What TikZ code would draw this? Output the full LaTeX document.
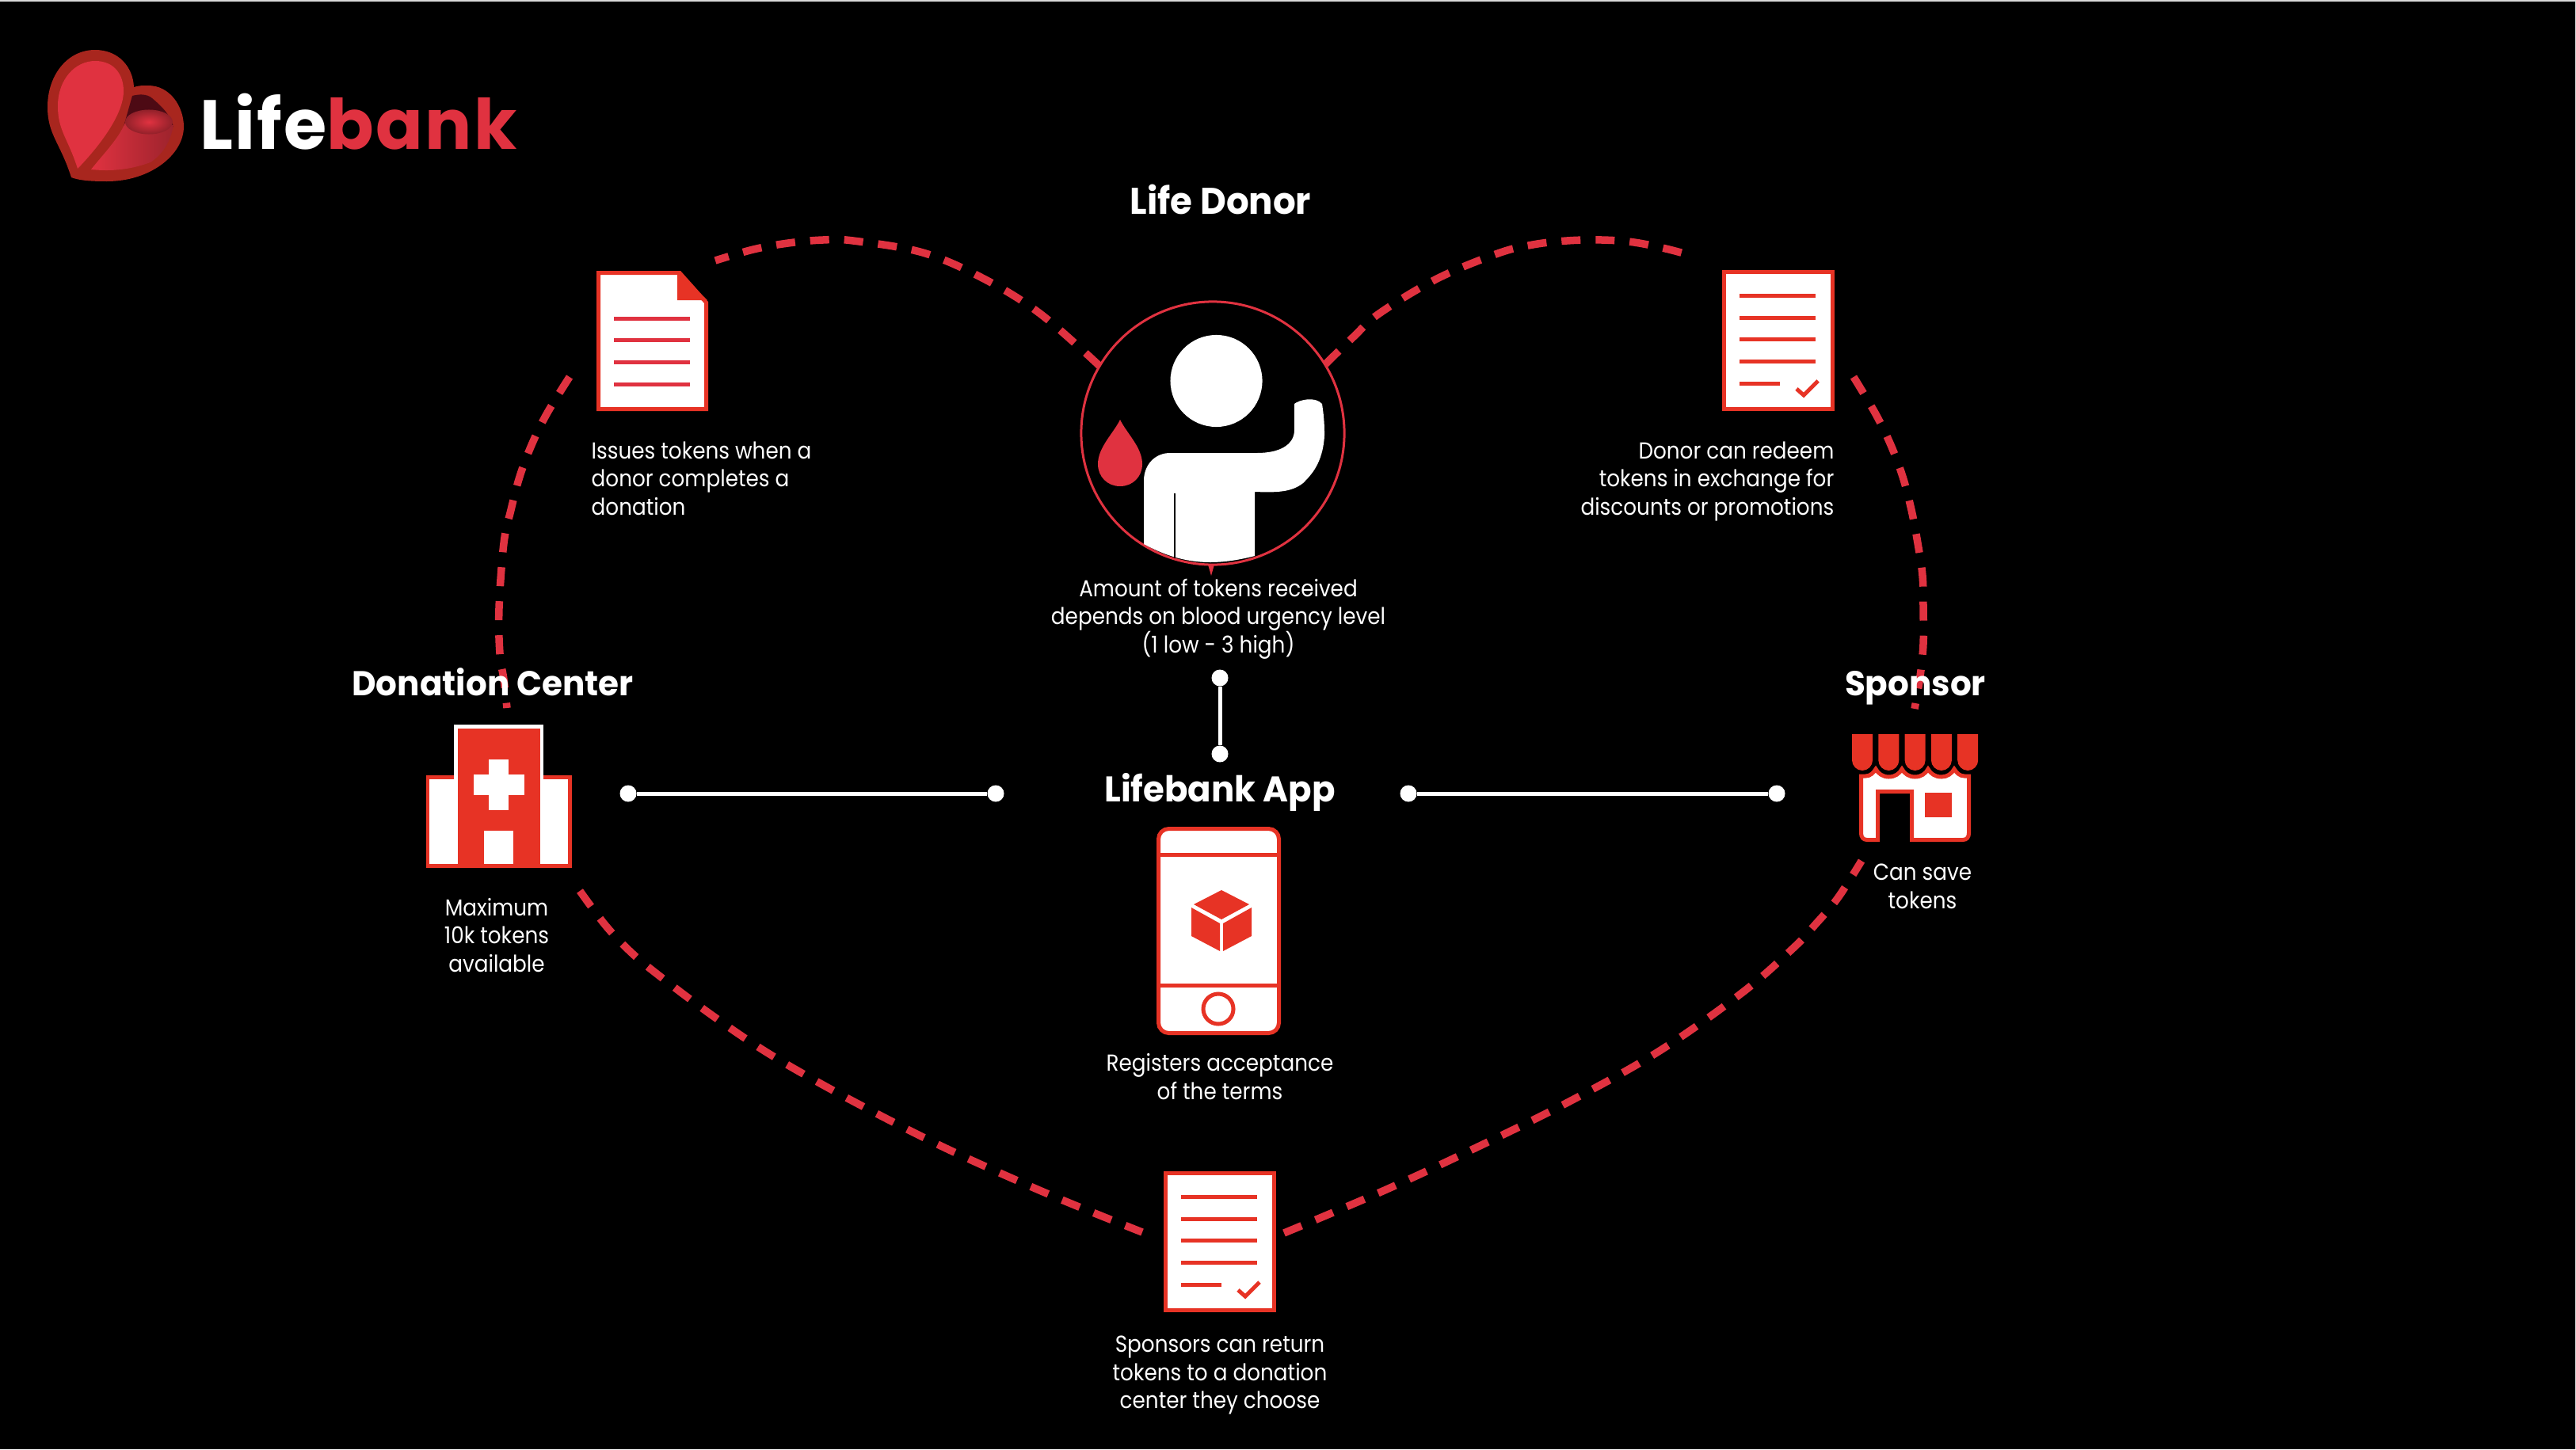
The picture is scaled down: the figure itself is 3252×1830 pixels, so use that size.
\documentclass[tikz,border=0pt]{standalone}
\usepackage{fontspec}
\setmainfont{Poppins}[FakeStretch=0.9,BoldFeatures={FakeStretch=0.965}]
\newfontfamily\logofont{Poppins}[LetterSpace=2.5]
\definecolor{heartred}{HTML}{E03240}
\definecolor{iconred}{HTML}{E73325}
\definecolor{logodark}{HTML}{A8261E}
\definecolor{logomouth}{HTML}{4D0A14}
\newcommand{\descfont}{\fontsize{8.3}{9.96}\selectfont\setlength{\lineskiplimit}{-5pt}}
\tikzset{
    heartline/.style={draw=heartred,line width=0.095cm,dash pattern=on 0.24cm off 0.19cm},
    iconline/.style={draw=iconred,line width=0.05cm},
    link/.style={draw=white,line width=0.05cm},
    dot/.style={circle,fill=white,inner sep=0,minimum size=0.21cm},
    desc/.style={text=white,inner sep=0,anchor=base,align=center,font=\descfont},
    heading/.style={text=white,inner sep=0,anchor=base,font=\fontsize{12.4}{14}\selectfont\bfseries}
}
\newcommand{\checkdoc}[1]{
\begin{scope}[shift={(#1)}]
\draw[iconline,fill=white] (2.5, 2.5) rectangle (139.5, 175.5);
\foreach \i in {32,60,87,115}
{
    \draw[iconline] (22, \i) -- (118, \i);
}
\draw[iconline] (22, 143) -- (73, 143);
\draw[iconline] (94, 150) -- (103, 158) -- (121, 140);
\end{scope}
}
\begin{document}
\begin{tikzpicture}[x=0.01cm,y=-0.01cm]

\fill[black] (0, 0) rectangle (3252, 1830);
\useasboundingbox (0, 0) rectangle (3252, 1830);
\fill[black!15] (0, 0) rectangle (3252, 2);
\fill[black!15] (3251, 0) rectangle (3252, 1830);

% logo
\fill[logodark] (90, 224) .. controls (76, 180) and (60, 170) .. (60, 135) .. controls (60, 95) and (85, 63) .. (120, 63) .. controls (150, 63) and (168, 85) .. (169, 110) .. controls (175, 108) and (180, 108) .. (187, 108) .. controls (215, 108) and (232, 135) .. (232, 160) .. controls (232, 195) and (190, 229) .. (135, 229) .. controls (115, 229) and (100, 228) .. cycle;
\fill[logomouth] (156, 160) -- (167, 121) .. controls (175, 119) and (185, 118) .. (192, 124) .. controls (205, 135) and (215, 145) .. (219, 160) -- cycle;
\shade[left color=heartred,right color=heartred!70!black] (158, 155) .. controls (150, 175) and (130, 195) .. (115, 214) .. controls (135, 216) and (160, 216) .. (190, 205) .. controls (205, 195) and (215, 180) .. (219, 158) -- cycle;
\shade[inner color=heartred,outer color=heartred!65!black] (188, 154) ellipse (0.3cm and 0.155cm);
\fill[heartred] (98, 213) .. controls (86, 175) and (73, 165) .. (73, 134) .. controls (73, 100) and (95, 77) .. (120, 77) .. controls (145, 77) and (156, 95) .. (156, 115) .. controls (156, 145) and (125, 185) .. cycle;
\node[inner sep=0,anchor=base west,font=\fontsize{25}{25}\logofont\bfseries] (nLogo) at (252, 188) {\textcolor{white}{Life}\textcolor{heartred}{bank}};

% heart
\draw[heartline] plot[smooth,tension=0.6] coordinates {(1388,462) (1313,396) (1242,352) (1165,319) (1077,304) (1039,303) (995,307) (951,315) (903,329)};
\draw[heartline] plot[smooth,tension=0.6] coordinates {(719,476) (690,523) (671,562) (656,602) (645,644) (636,686) (630,768) (631,825) (636,858) (640,894)};
\draw[heartline] plot[smooth,tension=0.6] coordinates {(732,1125) (764,1168) (794,1200) (827,1228) (896,1280) (965,1327) (1039,1370) (1116,1411) (1192,1449) (1271,1485) (1350,1519) (1442,1556)};
\draw[heartline] plot[smooth,tension=0.6] coordinates {(1673,460) (1709,425) (1741,396) (1814,352) (1891,320) (1935,309) (1978,304) (2022,303) (2063,306) (2107,315) (2139,324)};
\draw[heartline] plot[smooth,tension=0.6] coordinates {(2340,476) (2368,523) (2387,562) (2402,602) (2413,644) (2421,686) (2427,727) (2428,768) (2428,813) (2424,854) (2417,895)};
\draw[heartline] plot[smooth,tension=0.6] coordinates {(1621,1557) (1748,1503) (1866,1448) (1983,1390) (2095,1327) (2200,1253) (2264,1197) (2292,1167) (2320,1134) (2350,1087)};

% issuing document
\draw[iconline,fill=white] (755.5, 344.5) -- (858, 344.5) -- (891.5, 382) -- (891.5, 516.5) -- (755.5, 516.5) -- cycle;
\fill[iconred] (855, 343) -- (893, 379) -- (855, 379) -- cycle;
\foreach \i in {402,429,457,485}
{
    \draw[draw=heartred,line width=0.05cm] (775, \i) -- (871, \i);
}
\checkdoc{2174,341}
\checkdoc{1469,1479}

% donor
\draw[draw=heartred,line width=0.03cm] (1531, 547) circle (1.66cm);
\fill[white] (1535.5, 481) circle (0.58cm);
\fill[heartred] (1414, 530) .. controls (1405, 548) and (1386, 565) .. (1386, 586) .. controls (1386, 602) and (1398, 614) .. (1414, 614) .. controls (1430, 614) and (1442, 602) .. (1442, 586) .. controls (1442, 565) and (1423, 548) .. cycle;
\fill[white] (1444, 687) -- (1444, 607) .. controls (1444, 587) and (1458, 572) .. (1477, 572) -- (1587, 572) .. controls (1615, 572) and (1634, 562) .. (1634, 543) -- (1634, 510) .. controls (1640, 505) and (1660, 500) .. (1669, 510) .. controls (1672, 530) and (1672, 540) .. (1672, 550) .. controls (1670, 585) and (1655, 600) .. (1645, 610) .. controls (1630, 622) and (1610, 622) .. (1584, 621) -- (1584, 702) .. controls (1530, 716) and (1490, 712) .. cycle;
\draw[black,line width=0.025cm] (1483, 623) -- (1483, 705);
\fill[heartred] (1525, 713) -- (1533, 713) -- (1529, 727) -- cycle;

% hospital
\fill[iconred] (538, 979) rectangle (722, 1096);
\fill[white] (573, 915) rectangle (686, 990);
\fill[white] (542, 984) rectangle (578, 1091);
\fill[white] (682, 984) rectangle (717, 1091);
\fill[iconred] (578, 920) rectangle (682, 1096);
\fill[white] (617, 959) rectangle (642, 1023);
\fill[white] (598, 978) rectangle (662, 1004);
\fill[white] (611, 1049) rectangle (648, 1091);

% phone
\draw[iconline,fill=white,rounded corners=0.13cm] (1462.5, 1046.5) rectangle (1614.5, 1304.5);
\draw[iconline] (1462.5, 1079) -- (1614.5, 1079);
\draw[iconline] (1462.5, 1244) -- (1614.5, 1244);
\draw[iconline] (1538, 1274) circle (0.19cm);
\fill[iconred] (1542, 1124) -- (1577, 1142) -- (1542, 1161) -- (1507, 1142) -- cycle;
\fill[iconred] (1504, 1146) -- (1540, 1166) -- (1540, 1201) -- (1504, 1182) -- cycle;
\fill[iconred] (1544, 1166) -- (1580, 1146) -- (1580, 1182) -- (1544, 1201) -- cycle;

% shop
\draw[iconline,fill=white] (2349.5, 980) -- (2355, 980) .. controls (2361, 980) and (2365, 976) .. (2368, 971) .. controls (2371, 977) and (2377, 981) .. (2384.5, 981) .. controls (2392, 981) and (2398, 977) .. (2401, 971) .. controls (2404, 977) and (2410, 981) .. (2417.5, 981) .. controls (2425, 981) and (2431, 977) .. (2434, 971) .. controls (2437, 977) and (2443, 981) .. (2451, 981) .. controls (2458, 981) and (2464, 977) .. (2467, 971) .. controls (2470, 976) and (2474, 980) .. (2480, 980) -- (2485.5, 980) -- (2485.5, 1052) .. controls (2485.5, 1057) and (2483, 1060.5) .. (2478, 1060.5) -- (2413.5, 1060.5) -- (2413.5, 999.5) -- (2370.5, 999.5) -- (2370.5, 1060.5) -- (2357, 1060.5) .. controls (2352, 1060.5) and (2349.5, 1057) .. (2349.5, 1052) -- cycle;
\foreach \i in {2338,2371.3,2404.6,2437.9,2471.2}
{
    \begin{scope}[shift={(\i,0)}]
    \fill[iconred] (0, 960) -- (0, 927) -- (26, 927) -- (26, 960) .. controls (26, 967) and (20, 973) .. (13, 973) .. controls (6, 973) and (0, 967) .. cycle;
    \end{scope}
}
\fill[iconred] (2430, 1001) rectangle (2464, 1032);

% links
\node[dot] (dLeftA) at (793, 1002) {};
\node[dot] (dLeftB) at (1257, 1002) {};
\node[dot] (dRightA) at (1778, 1002) {};
\node[dot] (dRightB) at (2243, 1002) {};
\node[dot] (dUpA) at (1540, 856) {};
\node[dot] (dUpB) at (1540, 952) {};
\draw[link] (dLeftA) -- (dLeftB);
\draw[link] (dRightA) -- (dRightB);
\draw[link] (dUpA) -- (dUpB);

% labels
\node[heading,font=\fontsize{13.3}{14}\selectfont\bfseries] (lDonor) at (1541, 270) {Life Donor};
\node[heading] (lCenter) at (622, 878) {Donation Center};
\node[heading] (lSponsor) at (2418, 878) {Sponsor};
\node[heading,font=\fontsize{12.8}{14}\selectfont\bfseries] (lApp) at (1540, 1012) {Lifebank App};

\node[desc,align=left,anchor=base west] (tIssue) at (746, 650) {Issues tokens when a\\donor completes a\\donation};
\node[desc,align=right,anchor=base east] (tRedeem) at (2316, 650) {Donor can redeem\\tokens in exchange for\\discounts or promotions};
\node[desc] (tAmount) at (1538, 824) {Amount of tokens received\\depends on blood urgency level\\(1 low - 3 high)};
\node[desc] (tMax) at (627, 1227) {Maximum\\10k tokens\\available};
\node[desc] (tSave) at (2427, 1147) {Can save\\tokens};
\node[desc] (tTerms) at (1540, 1388) {Registers acceptance\\of the terms};
\node[desc] (tReturn) at (1540, 1778) {Sponsors can return\\tokens to a donation\\center they choose};

\end{tikzpicture}
\end{document}
